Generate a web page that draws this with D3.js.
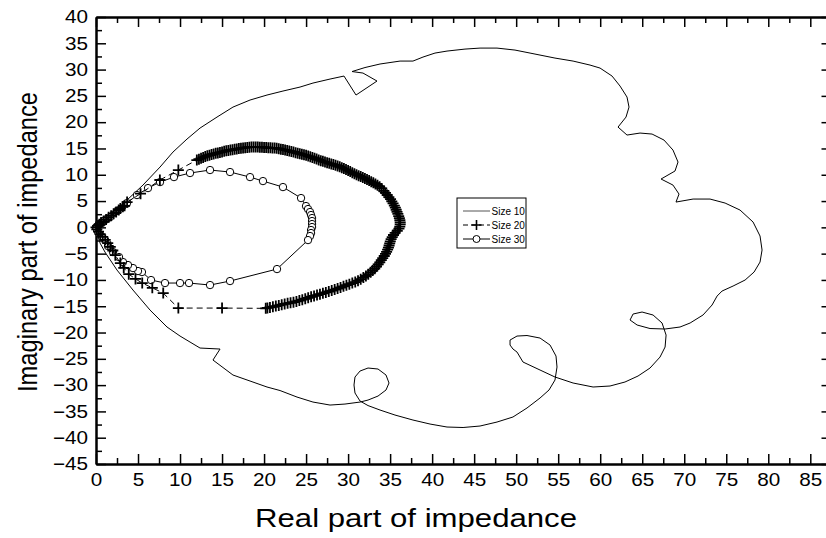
<!DOCTYPE html>
<html>
<head>
<meta charset="utf-8">
<script src="https://cdn.jsdelivr.net/npm/d3@7"></script>
<style>
  body { margin: 0; background: #fff; }
  text { font-family: "Liberation Sans", Arial, Helvetica, sans-serif; fill: #000; }
</style>
</head>
<body>
<div id="chart"></div>
<script>
// data: [real, imaginary]
var size10 = [[0,0],[1.67,2.72],[3.69,5.19],[5.59,8.04],[7.62,11.47],[9.16,14.32],[10.83,16.79],[12.38,18.88],[14.4,20.97],[16.3,22.87],[18.33,24.21],[20.35,25.16],[22.25,25.92],[24.28,26.68],[25.82,27.44],[27.85,28.2],[29.51,28.77],[30.94,25.16],[33.44,27.82],[31.77,29.34],[30.47,29.63],[32.01,30.39],[33.8,31.06],[36.18,31.62],[37.72,31.62],[38.91,32.38],[40.34,33.14],[41.77,33.52],[43.91,33.9],[45.7,34.09],[47.72,34.09],[49.86,33.71],[51.65,33.14],[54.62,32.19],[56.77,31.62],[58.79,30.86],[59.98,30.29],[61.41,28.77],[62.36,26.87],[63.19,24.78],[63.43,22.87],[63.07,20.97],[62.12,19.07],[63.19,17.55],[64.74,17.93],[66.17,17.74],[67.59,16.6],[68.66,14.7],[69.26,12.42],[68.9,10.71],[67.24,9.19],[68.66,8.04],[69.38,6.33],[69.02,4.81],[71.05,5.38],[73.07,5.38],[74.86,4.62],[76.64,3.29],[78.19,1.01],[79.02,-1.65],[79.26,-4.31],[79.02,-6.6],[78.31,-8.5],[77.24,-10.02],[75.81,-11.16],[74.5,-12.11],[73.91,-13.06],[73.31,-14.77],[72.24,-16.66],[70.7,-18.19],[69.5,-18.95],[67.72,-19.33],[65.93,-19.24],[64.39,-18.57],[63.55,-17.62],[63.91,-16.48],[64.98,-16.1],[66.29,-16.67],[67.36,-18.19],[67.84,-20.48],[67.72,-22.76],[67.12,-24.66],[65.93,-26.75],[64.5,-28.27],[62.95,-29.41],[61.17,-30.17],[59.15,-30.36],[56.77,-29.6],[54.62,-28.46],[52.84,-27.13],[50.81,-25.61],[50.1,-23.71],[49.62,-23.14],[49.27,-22.38],[49.27,-21.43],[50.1,-20.67],[51.29,-20.57],[52.84,-21.05],[54.03,-22.38],[54.74,-24.47],[54.86,-26.56],[54.62,-29.03],[53.91,-30.93],[52.84,-32.45],[51.29,-34.35],[49.62,-36.06],[47.72,-37.02],[45.7,-37.78],[43.68,-38.06],[41.77,-37.97],[39.75,-37.4],[37.72,-36.64],[35.58,-35.69],[33.8,-34.74],[32.37,-33.89],[31.42,-33.03],[30.82,-31.5],[30.7,-29.98],[30.82,-28.46],[31.42,-27.32],[32.37,-26.75],[33.56,-26.94],[34.51,-28.08],[34.87,-29.6],[34.51,-30.93],[33.56,-32.08],[32.37,-32.84],[31.42,-33.22],[29.63,-33.6],[27.85,-33.79],[25.82,-33.22],[23.92,-32.27],[21.9,-31.03],[20.35,-30.36],[18.33,-29.22],[16.3,-28.08],[13.92,-25.23],[14.76,-23.14],[12.38,-22.95],[11.19,-21.81],[10.0,-20.67],[8.45,-18.95],[6.43,-15.73],[4.4,-11.92],[2.5,-8.12],[1.07,-4.7],[0.48,-2.99],[0.12,-0.89],[0,0]];

var size20 = [[0,0],[0.2,0.3],[0.4,0.6],[0.6,0.9],[0.9,1.2],[1.2,1.5],[1.5,1.9],[1.8,2.2],[2.1,2.6],[2.4,2.9],[2.7,3.3],[2.9,3.6],[3.2,3.9],[3.4,4.1],[3.7,4.8],[5.3,6.4],[7.6,9.0],[9.8,10.9],
  [12.0,12.8],[12.25,12.97],[12.5,13.13],[12.75,13.3],[13.0,13.45],[13.25,13.6],[13.5,13.72],[13.75,13.85],[14.0,13.97],[14.25,14.07],[14.5,14.15],[14.75,14.25],[15.0,14.35],[15.25,14.46],[15.5,14.55],[15.75,14.63],[16.0,14.7],[16.25,14.77],[16.5,14.84],[16.75,14.91],[17.0,14.98],[17.25,15.05],[17.5,15.1],[17.75,15.15],[18.0,15.2],[18.25,15.25],[18.5,15.27],[18.75,15.28],[19.0,15.28],[19.25,15.27],[19.5,15.25],[19.75,15.23],[20.0,15.2],[20.25,15.18],[20.5,15.15],[20.75,15.12],[21.0,15.1],[21.25,15.08],[21.5,15.02],[21.75,14.95],[22.0,14.87],[22.25,14.79],[22.5,14.71],[22.75,14.63],[23.0,14.54],[23.25,14.44],[23.5,14.33],[23.75,14.21],[24.0,14.1],[24.25,14.0],[24.5,13.9],[24.75,13.8],[25.0,13.69],[25.25,13.56],[25.5,13.43],[25.75,13.3],[26.0,13.15],[26.25,12.98],[26.5,12.82],[26.75,12.68],[27.0,12.55],[27.25,12.43],[27.5,12.3],[27.75,12.18],[28.0,12.06],[28.25,11.94],[28.5,11.81],[28.75,11.68],[29.0,11.52],[29.25,11.35],[29.5,11.17],[29.75,10.99],[30.0,10.8],[30.25,10.6],[30.5,10.4],[30.75,10.19],[31.0,10.01],[31.25,9.83],[31.5,9.66],[31.75,9.48],[32.0,9.29],[32.25,9.09],[32.5,8.89],[32.75,8.69],[33.0,8.47],[33.25,8.24],[33.5,7.99],[33.75,7.72],[34.0,7.4],
  [34.25,6.95],[34.45,6.55],[34.65,6.15],[34.85,5.75],[35.05,5.35],[35.2,4.95],[35.35,4.55],[35.5,4.15],[35.62,3.75],[35.72,3.35],[35.82,2.95],[35.92,2.55],[36.02,2.15],[36.1,1.75],[36.16,1.35],[36.2,0.95],[36.2,0.55],[36.15,0.15],[36.05,-0.25],[35.85,-0.65],[35.6,-1.05],[35.4,-1.45],[35.25,-1.85],[35.12,-2.25],[35.02,-2.65],[34.95,-3.05],[34.88,-3.45],[34.8,-3.85],[34.7,-4.25],[34.58,-4.65],[34.45,-5.05],[34.3,-5.45],[34.12,-5.85],[33.95,-6.25],[33.77,-6.65],[33.58,-7.05],[33.38,-7.45],[33.17,-7.85],[32.93,-8.2],[32.68,-8.55],[32.4,-8.9],[32.12,-9.25],[31.82,-9.55],[31.5,-9.85],[31.18,-10.15],[30.85,-10.4],[30.5,-10.6],[30.15,-10.8],[29.8,-11.0],[29.45,-11.22],[29.1,-11.44],[28.75,-11.65],[28.4,-11.84],[28.05,-12.02],[27.7,-12.2],[27.35,-12.37],[27.0,-12.54],[26.65,-12.71],[26.3,-12.88],[25.95,-13.04],[25.6,-13.2],[25.25,-13.4],[24.9,-13.58],[24.55,-13.75],[24.2,-13.92],[23.85,-14.08],[23.5,-14.22],[23.15,-14.35],[22.8,-14.45],[22.45,-14.57],[22.1,-14.7],[21.75,-14.84],[21.4,-14.97],[21.05,-15.1],[20.7,-15.22],[20.4,-15.32],[20.2,-15.4],
  [15.0,-15.35],[9.8,-15.35],[8.0,-12.5],[6.7,-11.5],[5.5,-10.6],[4.7,-9.8],[3.9,-8.9],[3.3,-7.7],[2.9,-6.8],[2.3,-5.3],[2.0,-4.4],[1.7,-3.7],[1.4,-3.0],[1.1,-2.4],[0.8,-1.8],[0.5,-1.3],[0.3,-0.8],[0.1,-0.4]];

var size30 = [[0,0],[0.2,0.2],[0.35,0.55],[0.6,0.8],[0.83,1.01],[1.0,1.3],[1.3,1.6],[1.67,1.96],[2.5,3.1],[3.69,4.62],[4.88,6.14],[6.19,7.47],[7.62,8.61],[9.28,9.56],[11.19,10.33],[13.57,10.9],[15.95,10.52],[18.33,9.56],[19.87,8.8],[22.25,7.66],[24.4,5.57],[24.99,4.05],[25.23,3.48],[25.47,2.91],[25.59,2.34],[25.71,1.77],[25.71,1.2],[25.71,0.63],[25.71,0.06],[25.59,-0.51],[25.59,-1.08],[25.47,-1.65],[25.23,-2.42],[21.54,-7.93],[15.95,-10.21],[13.57,-10.97],[11.07,-10.59],[10.0,-10.59],[8.21,-10.59],[6.55,-10.02],[5.47,-8.5],[5.0,-8.31],[4.4,-7.74],[3.81,-7.17],[3.21,-6.6],[2.74,-5.65],[2.02,-4.7],[1.43,-3.56],[1.07,-2.41],[0.71,-1.84],[0.24,-0.89],[0.06,-0.13]];

var seriesNames = ["Size 10", "Size 20", "Size 30"];
var xTicks = d3.range(0, 86, 5);
var yTicks = d3.range(-45, 41, 5);
var xMinor = d3.range(2.5, 87, 5);
var yMinor = d3.range(-42.5, 40, 5);

var width = 826, height = 538;
var stretch = 1.15; // the original figure is a bit wider than tall, text looks stretched

var svg = d3.select("#chart").append("svg")
    .attr("width", width)
    .attr("height", height);

var x = d3.scaleLinear().domain([0, 87]).range([96, 827.1]);
var y = d3.scaleLinear().domain([-45, 40]).range([464, 17]);

var line = d3.line().x(d => x(d[0])).y(d => y(d[1]));

// frame + ticks (all pointing inward)
function styleAxis(g) {
  g.select(".domain").attr("stroke", "#000").attr("stroke-width", 2);
  g.selectAll(".tick line").attr("stroke", "#000").attr("stroke-width", 1.5);
  g.selectAll(".tick text").style("font-size", "18px").attr("fill", "#000");
}

var gx = svg.append("g").attr("transform", "translate(0,464)")
  .call(d3.axisBottom(x).tickValues(xTicks).tickSize(-10).tickPadding(9).tickSizeOuter(0))
  .call(styleAxis);
gx.selectAll(".tick text").attr("transform", "scale(" + stretch + ",1)");
svg.append("g").attr("transform", "translate(0,464)")
  .call(d3.axisBottom(x).tickValues(xMinor).tickSize(-6).tickFormat("").tickSizeOuter(0))
  .call(styleAxis);
svg.append("g").attr("transform", "translate(0,17)")
  .call(d3.axisTop(x).tickValues(xTicks).tickSize(-10).tickFormat("").tickSizeOuter(0))
  .call(styleAxis);
svg.append("g").attr("transform", "translate(0,17)")
  .call(d3.axisTop(x).tickValues(xMinor).tickSize(-6).tickFormat("").tickSizeOuter(0))
  .call(styleAxis);
var gy = svg.append("g").attr("transform", "translate(96,0)")
  .call(d3.axisLeft(y).tickValues(yTicks).tickSize(-10).tickPadding(7).tickSizeOuter(0))
  .call(styleAxis);
gy.selectAll(".tick text").attr("transform", "scale(" + stretch + ",1)");
svg.append("g").attr("transform", "translate(96,0)")
  .call(d3.axisLeft(y).tickValues(yMinor).tickSize(-6).tickFormat("").tickSizeOuter(0))
  .call(styleAxis);
svg.append("g").attr("transform", "translate(827.5,0)")
  .call(d3.axisRight(y).tickValues(yTicks).tickSize(-6).tickFormat("").tickSizeOuter(0))
  .call(styleAxis);

// Size 10: thin solid line
svg.append("path").datum(size10)
  .attr("d", line).attr("fill", "none")
  .attr("stroke", "#000").attr("stroke-width", 1);

// Size 30: solid line with open circles
svg.append("path").datum(size30)
  .attr("d", line).attr("fill", "none")
  .attr("stroke", "#000").attr("stroke-width", 1);
svg.append("g").selectAll("circle").data(size30).join("circle")
  .attr("cx", d => x(d[0])).attr("cy", d => y(d[1])).attr("r", 3.7)
  .attr("fill", "#fff").attr("stroke", "#000").attr("stroke-width", 1);

// Size 20: dashed line with crosses
svg.append("path").datum(size20)
  .attr("d", line).attr("fill", "none")
  .attr("stroke", "#000").attr("stroke-width", 1)
  .attr("stroke-dasharray", "6,4");
svg.append("g").selectAll("path").data(size20).join("path")
  .attr("transform", d => "translate(" + x(d[0]) + "," + y(d[1]) + ")")
  .attr("d", "M-5.5,0H5.5M0,-5.5V5.5")
  .attr("fill", "none").attr("stroke", "#000").attr("stroke-width", 1.8);

// legend
var lg = svg.append("g");
lg.append("rect").attr("x", 457).attr("y", 198).attr("width", 69).attr("height", 50)
  .attr("fill", "#fff").attr("stroke", "#000").attr("stroke-width", 1);
seriesNames.forEach(function(name, i) {
  var ly = 211 + i * 14;
  var l = lg.append("line").attr("x1", 463).attr("x2", 490).attr("y1", ly).attr("y2", ly)
    .attr("stroke", i === 0 ? "#555" : "#000").attr("stroke-width", 1);
  if (i === 1) {
    l.attr("stroke-dasharray", "5,3");
    lg.append("path").attr("d", "M471.5," + ly + "H481.5M476.5," + (ly - 5) + "V" + (ly + 5))
      .attr("stroke", "#000").attr("stroke-width", 1.6);
  }
  if (i === 2) {
    lg.append("circle").attr("cx", 476.5).attr("cy", ly).attr("r", 3.5)
      .attr("fill", "#fff").attr("stroke", "#000");
  }
  lg.append("text").attr("x", 491.5).attr("y", ly).attr("dy", "0.35em")
    .style("font-size", "10px").text(name);
});

// axis titles
svg.append("text").attr("x", 416).attr("y", 527).attr("text-anchor", "middle")
  .style("font-size", "25px")
  .attr("textLength", 322).attr("lengthAdjust", "spacingAndGlyphs")
  .text("Real part of impedance");
svg.append("text").attr("transform", "translate(37,242) scale(" + stretch + ",1) rotate(-90)")
  .attr("text-anchor", "middle")
  .style("font-size", "24px")
  .attr("textLength", 300).attr("lengthAdjust", "spacingAndGlyphs")
  .text("Imaginary part of impedance");
</script>
</body>
</html>
